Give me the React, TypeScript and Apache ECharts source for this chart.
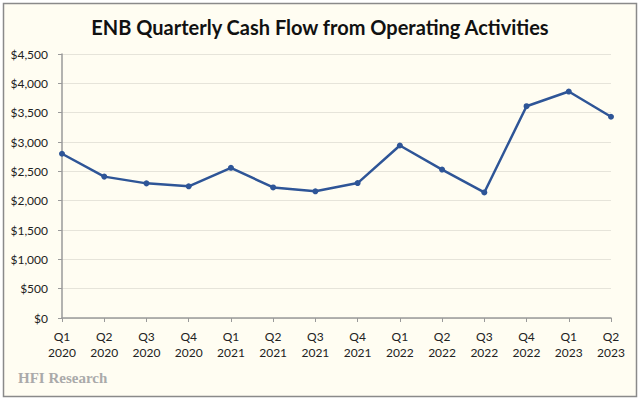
import React, { useEffect, useRef } from "react";
import * as echarts from "echarts";

const quarters = ["Q1", "Q2", "Q3", "Q4", "Q1", "Q2", "Q3", "Q4", "Q1", "Q2", "Q3", "Q4", "Q1", "Q2"];
const years = ["2020", "2020", "2020", "2020", "2021", "2021", "2021", "2021", "2022", "2022", "2022", "2022", "2023", "2023"];
const cashFlow = [2800, 2410, 2295, 2245, 2560, 2225, 2160, 2300, 2940, 2530, 2140, 3610, 3860, 3430];
const categories = quarters.map((q, i) => q + "\n" + years[i]);

export default function App() {
  const ref = useRef<HTMLDivElement>(null);
  useEffect(() => {
    document.body.style.margin = "0";
    const chart = echarts.init(ref.current!, null, { renderer: "svg" });
    const font = "Lato, 'Open Sans', sans-serif";
    chart.setOption({
      animation: false,
      backgroundColor: "#ffffff",
      graphic: [
        {
          type: "rect",
          shape: { x: 3.5, y: 3.5, width: 633, height: 393 },
          style: { fill: "#FFFDF2", stroke: "#8a8a8a", lineWidth: 1.5 },
          z: -10,
          silent: true,
        },
        {
          type: "text",
          left: 18,
          top: 370,
          style: {
            text: "HFI Research",
            font: "bold 15px 'Liberation Serif', 'DejaVu Serif', serif",
            fill: "#aaaaaa",
          },
        },
      ],
      title: {
        text: "ENB Quarterly Cash Flow from Operating Activities",
        left: "center",
        top: 12,
        textStyle: { fontFamily: font, fontWeight: "bold", fontSize: 20, color: "#111111" },
      },
      grid: { left: 62, right: 29, top: 54, bottom: 82 },
      xAxis: {
        type: "category",
        data: categories,
        boundaryGap: false,
        axisLine: { lineStyle: { color: "#9a9a9a", width: 1.5 } },
        axisTick: { show: true, length: 4, lineStyle: { color: "#9a9a9a" } },
        axisLabel: {
          interval: 0,
          margin: 10,
          lineHeight: 16,
          fontFamily: font,
          fontSize: 12,
          color: "#222222",
        },
      },
      yAxis: {
        type: "value",
        min: 0,
        max: 4500,
        interval: 500,
        axisLine: { show: true, lineStyle: { color: "#9a9a9a", width: 1.5 } },
        axisTick: { show: true, length: 4, lineStyle: { color: "#9a9a9a" } },
        splitLine: { lineStyle: { color: "#E6E4DA", width: 1 } },
        axisLabel: {
          margin: 14,
          fontFamily: font,
          fontSize: 12,
          color: "#222222",
          formatter: (v: number) => "$" + v.toLocaleString("en-US"),
        },
      },
      series: [
        {
          type: "line",
          data: cashFlow,
          symbol: "circle",
          symbolSize: 6,
          lineStyle: { color: "#2E5597", width: 2.5 },
          itemStyle: { color: "#2E5597" },
        },
      ],
    });
    return () => chart.dispose();
  }, []);
  return <div ref={ref} style={{ width: 640, height: 400, position: "fixed", left: 0, top: 0 }} />;
}
